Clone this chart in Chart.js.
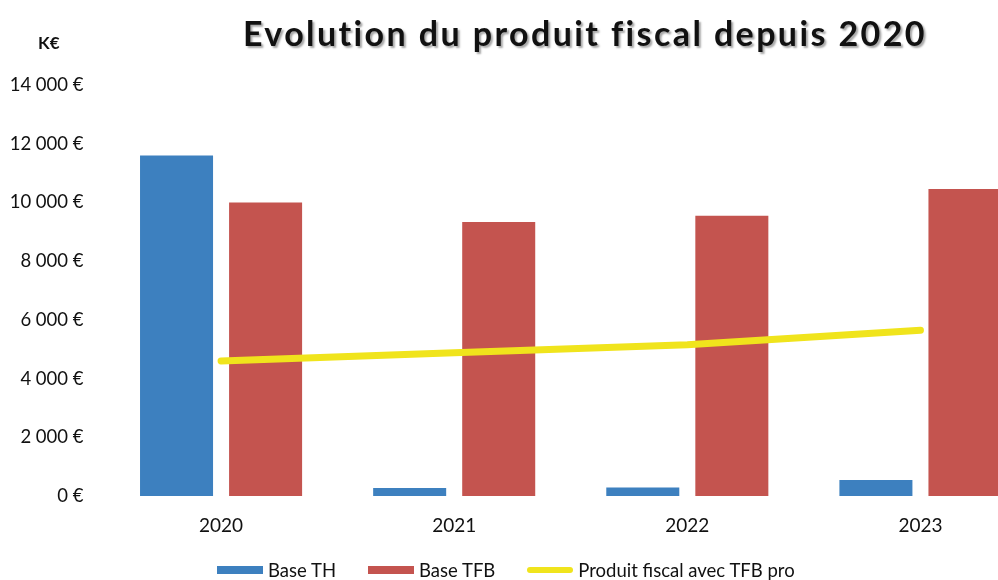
<!DOCTYPE html>
<html><head><meta charset="utf-8">
<script src="https://cdn.jsdelivr.net/npm/chart.js@4"></script>
<style>
html,body{margin:0;padding:0;background:#fff;}
body{width:998px;height:580px;overflow:hidden;position:relative;font-family:Lato,"Open Sans",sans-serif;}
#wrap{position:absolute;left:0;top:0;width:1037px;height:580px;}
#title{position:absolute;left:0;top:12px;width:1170px;text-align:center;font-family:Lato,sans-serif;font-weight:700;font-size:34px;letter-spacing:2.4px;color:#111;text-shadow:2px 2px 2px rgba(0,0,0,0.35);white-space:nowrap;}
#unit{position:absolute;left:38px;top:32px;font-family:Lato,sans-serif;font-weight:700;font-size:17px;color:#111;}
#legend{position:absolute;left:217px;top:559px;display:flex;align-items:center;font-family:Lato,sans-serif;font-size:18.5px;color:#111;white-space:nowrap;}
#legend .it{display:flex;align-items:center;margin-right:32px;}
#legend .sw{width:46px;height:8px;margin-right:5px;}
</style></head>
<body>
<div id="wrap"><canvas id="c"></canvas></div>
<div id="title">Evolution du produit fiscal depuis 2020</div>
<div id="unit">K€</div>
<div id="legend"></div>
<script>
const categories = ['2020', '2021', '2022', '2023'];
const baseTH = [11600, 270, 290, 545];
const baseTFB = [10000, 9330, 9550, 10460];
const produitFiscal = [4600, 4880, 5150, 5650];
const seriesNames = ['Base TH', 'Base TFB', 'Produit fiscal avec TFB pro'];
const yTickLabels = ['0 €', '2 000 €', '4 000 €', '6 000 €', '8 000 €', '10 000 €', '12 000 €', '14 000 €'];

const colTH = '#3d80bf';
const colTFB = '#c4544f';
const colLine = '#f0e41c';

const lg = document.getElementById('legend');
[[seriesNames[0], colTH, 8], [seriesNames[1], colTFB, 8], [seriesNames[2], colLine, 6]].forEach(([n, c, h]) => {
  const it = document.createElement('div'); it.className = 'it';
  const sw = document.createElement('span'); sw.className = 'sw'; sw.style.background = c; sw.style.height = h + 'px';
  if (h === 6) sw.style.borderRadius = '3px';
  const t = document.createElement('span'); t.textContent = n;
  it.appendChild(sw); it.appendChild(t); lg.appendChild(it);
});

new Chart(document.getElementById('c'), {
  data: {
    labels: categories,
    datasets: [
      { type: 'bar', label: seriesNames[0], data: baseTH, backgroundColor: colTH, order: 2 },
      { type: 'bar', label: seriesNames[1], data: baseTFB, backgroundColor: colTFB, order: 2 },
      { type: 'line', label: seriesNames[2], data: produitFiscal, borderColor: colLine, backgroundColor: colLine,
        borderWidth: 7, pointRadius: 0, tension: 0, borderCapStyle: 'round', order: 0 }
    ]
  },
  options: {
    responsive: true, maintainAspectRatio: false, animation: false,
    layout: { padding: { top: 85, right: 0, bottom: 0, left: 0 } },
    datasets: { bar: { categoryPercentage: 0.764, barPercentage: 0.82 } },
    plugins: { legend: { display: false }, title: { display: false }, tooltip: { enabled: false } },
    scales: {
      x: {
        grid: { display: false, drawTicks: false }, border: { display: false },
        ticks: { color: '#111', font: { family: 'Lato', size: 19 }, padding: 18 },
        afterFit: (s) => { s.height = 84; }
      },
      y: {
        min: 0, max: 14000,
        grid: { display: false, drawTicks: false }, border: { display: false },
        ticks: { stepSize: 2000, color: '#111', font: { family: 'Lato', size: 18.5 }, padding: 21,
          callback: (v, i) => yTickLabels[i] },
        afterFit: (s) => { s.width = 104.5; }
      }
    }
  }
});
</script>
</body></html>
